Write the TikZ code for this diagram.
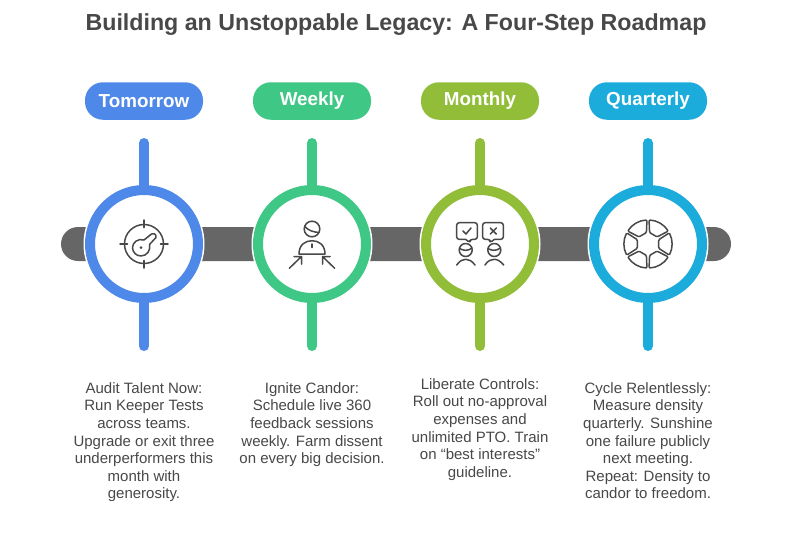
\documentclass[tikz,border=0pt]{standalone}
\usepackage{fontspec}
\setmainfont{Liberation Sans}
\definecolor{cA}{HTML}{4E88E8}
\definecolor{cB}{HTML}{3EC785}
\definecolor{cC}{HTML}{92BD39}
\definecolor{cD}{HTML}{1CACDC}
\definecolor{barc}{HTML}{666666}
\definecolor{ink}{HTML}{484848}
\begin{document}
\begin{tikzpicture}[x=1pt,y=-1pt,line cap=butt,
  pill/.style={rounded corners=18pt,minimum width=118pt,minimum height=37.5pt,inner sep=0pt,text=white,font=\fontsize{18.8}{19}\selectfont\bfseries},
  ring/.style={circle,draw,line width=10pt,minimum size=108pt,inner sep=0pt,fill=white},
  stem/.style={line width=10pt,line cap=round},
  body/.style={align=center,anchor=north,text=ink,inner sep=0pt,font=\fontsize{15}{17.65}\selectfont},
  ico/.style={draw=ink,line width=1.5pt,line cap=round,line join=round,fill=none}]
\useasboundingbox (0,0) rectangle (792,533);
\fill[white] (0,0) rectangle (792,533);
\node[text=ink,font=\fontsize{23.2}{26}\selectfont\bfseries,inner sep=0pt] (title) at (396,25) {Building an Unstoppable Legacy: A Four-Step Roadmap};
\fill[barc,rounded corners=17pt] (61,227) rectangle (731,261);
\foreach \n/\x in {1/144,2/312,3/480,4/648}{
  \coordinate (top\n) at (\x,143);
  \coordinate (bot\n) at (\x,346);
  \fill[white] (\x,244) circle (60.5);
}
\node[ring,draw=cA] (r1) at (144,244) {};
\node[ring,draw=cB] (r2) at (312,244) {};
\node[ring,draw=cC] (r3) at (480,244) {};
\node[ring,draw=cD] (r4) at (648,244) {};
\draw[stem,cA] (top1) -- (r1.north); \draw[stem,cA] (r1.south) -- (bot1);
\draw[stem,cB] (top2) -- (r2.north); \draw[stem,cB] (r2.south) -- (bot2);
\draw[stem,cC] (top3) -- (r3.north); \draw[stem,cC] (r3.south) -- (bot3);
\draw[stem,cD] (top4) -- (r4.north); \draw[stem,cD] (r4.south) -- (bot4);
\node[pill,fill=cA] (p1) at (144,101) {Tomorrow};
\node[pill,fill=cB] (p2) at (312,101) {Weekly};
\node[pill,fill=cC] (p3) at (480,101) {Monthly};
\node[pill,fill=cD] (p4) at (648,101) {Quarterly};
% icon 1
\begin{scope}[shift={(144,244)}]
  \draw[ico] (0,0) circle (19.5);
  \draw[ico] (0,-24) -- (0,-16.5) (0,24) -- (0,16.5) (-24,0) -- (-16.5,0) (24,0) -- (16.5,0);
  \draw[ico] (0,-4) -- (7.5,-10) .. controls (9,-11) and (12.5,-10.5) .. (12,-6.5) -- (5.5,0.5)
     .. controls (7,6) and (3,12) .. (-3,12) .. controls (-8,12) and (-11.5,8) .. (-11.5,3.5) .. controls (-11.5,-1.5) and (-6,-6) .. (0,-4);
  \fill[ink] (-3,3.7) circle (1.5);
\end{scope}
% icon 2
\begin{scope}[shift={(312,244)}]
  \draw[ico] (0,-15) circle (7.8);
  \draw[ico] (-7.3,-17.5) .. controls (-3,-13) and (2,-12) .. (6.8,-11.5);
  \draw[ico] (-13,10) .. controls (-13,1) and (-7,-3.3) .. (0,-3.3) .. controls (7,-3.3) and (13,1) .. (13,10) -- cycle;
  \draw[ico] (0,0) -- (0,3.5);
  \draw[ico] (-22.7,24.3) -- (-10.5,12.5) (-18,12.5) -- (-10.5,12.5) -- (-10.5,20);
  \draw[ico] (22.7,24.3) -- (10.5,12.5) (18,12.5) -- (10.5,12.5) -- (10.5,20);
\end{scope}
% icon 3
\begin{scope}[shift={(480,244)}]
  \draw[ico,rounded corners=2.5pt] (-14.5,-4.7) -- (-23.3,-4.7) -- (-23.3,-21.3) -- (-2.7,-21.3) -- (-2.7,-4.7) -- (-10,-4.7) -- (-10,-1.3) [sharp corners] -- cycle;
  \draw[ico,rounded corners=2.5pt] (14.5,-4.7) -- (23.3,-4.7) -- (23.3,-21.3) -- (2.7,-21.3) -- (2.7,-4.7) -- (10,-4.7) -- (10,-1.3) [sharp corners] -- cycle;
  \draw[ico] (-17,-13) -- (-14,-10) -- (-9,-16);
  \draw[ico] (10.3,-16) -- (16.3,-10) (16.3,-16) -- (10.3,-10);
  \draw[ico] (-14.3,6) circle (6.5);
  \draw[ico] (14.3,6) circle (6.5);
  \draw[ico] (-20.5,4.5) .. controls (-16,7) and (-12,7) .. (-8,4);
  \draw[ico] (8,4.5) .. controls (12,7) and (16,7) .. (20.5,4);
  \draw[ico] (-23.3,21) .. controls (-20,16.5) and (-17,15.3) .. (-14.2,15.3) .. controls (-11,15.3) and (-8,17) .. (-5,21);
  \draw[ico] (5,21) .. controls (8,16.5) and (11,15.3) .. (14.3,15.3) .. controls (17,15.3) and (20.5,17) .. (23.7,21);
\end{scope}
% icon 4
\begin{scope}[shift={(648,244)},y=1pt]
  \foreach \a in {60,0,-60,-120,180,120}{
    \draw[ico,rounded corners=1.1pt] (\a+22:11.5) -- (\a+27.5:24) arc[start angle=\a+27.5,delta angle=-55,radius=24] -- (\a-22:11.5) -- cycle;
  }
\end{scope}
\node[body] (t1) at (144,382) {Audit Talent Now:\\Run Keeper Tests\\across teams.\\Upgrade or exit three\\underperformers this\\month with\\generosity.};
\node[body] (t2) at (312,382) {Ignite Candor:\\Schedule live 360\\feedback sessions\\weekly. Farm dissent\\on every big decision.};
\node[body] (t3) at (480,378) {Liberate Controls:\\Roll out no-approval\\expenses and\\unlimited PTO. Train\\on “best interests”\\guideline.};
\node[body] (t4) at (648,382) {Cycle Relentlessly:\\Measure density\\quarterly. Sunshine\\one failure publicly\\next meeting.\\Repeat: Density to\\candor to freedom.};
\end{tikzpicture}
\end{document}
